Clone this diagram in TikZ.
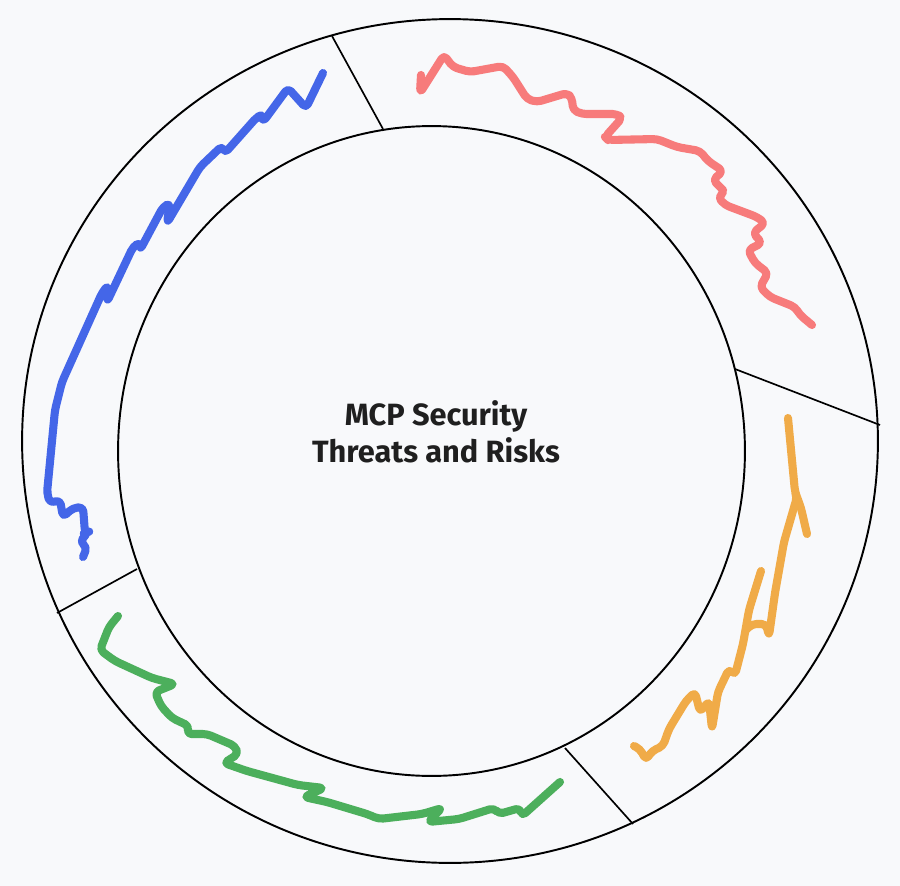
\documentclass[tikz,border=0pt]{standalone}
\usepackage{fontspec}
\setmainfont{Fira Sans}
\usepackage{tikz}
\definecolor{bgc}{HTML}{F8F9FB}
\definecolor{scrblue}{HTML}{4466E8}
\definecolor{scrred}{HTML}{F77B7B}
\definecolor{scrorange}{HTML}{F0AB48}
\definecolor{scrgreen}{HTML}{4CAF5C}
\begin{document}
\begin{tikzpicture}[x = 0.02cm, y = -0.02cm,
                        ring/.style = {draw, line width = 1.1pt},
                        divider/.style = {draw, line width = 0.95pt},
                        scribble/.style = {line width = 4.6pt, line cap = round, line join = round, rounded corners = 2.5pt},
                        title/.style = {align = center, font = \bfseries\fontsize{17.5}{21}\selectfont, text = black!88}]
      \useasboundingbox [fill = bgc] (0, 0) rectangle (900, 886);
      % rings
      \draw [ring] (450, 441) ellipse [x radius = 8.56cm, y radius = 8.44cm];
      \draw [ring] (431.5, 451) ellipse [x radius = 6.27cm, y radius = 6.5cm];
      % dividers
      \coordinate (d1o) at (332, 36);  \coordinate (d1i) at (383, 129);
      \coordinate (d2i) at (735, 369); \coordinate (d2o) at (880, 425);
      \coordinate (d3i) at (565, 748); \coordinate (d3o) at (633, 824);
      \coordinate (d4i) at (137, 569); \coordinate (d4o) at (57, 613);
      \draw [divider] (d1o) -- (d1i);
      \draw [divider] (d2i) -- (d2o);
      \draw [divider] (d3i) -- (d3o);
      \draw [divider] (d4i) -- (d4o);
      \node [title] (core) at (436, 432) {MCP Security\\Threats and Risks};
      % scribbles
      \draw [scribble, scrblue] (83, 557) -- (87, 547) -- (80, 542) -- (88, 532) -- (85, 533) -- (83, 507)
        -- (73, 508) -- (63, 517) -- (60, 500) -- (50, 503) -- (47, 493) -- (55, 410) -- (62, 382)
        -- (102, 293) -- (108, 285) -- (107, 302) -- (133, 247) -- (140, 242) -- (140, 250)
        -- (163, 207) -- (170, 203) -- (167, 223) -- (200, 167) -- (222, 146) -- (225, 153)
        -- (257, 117) -- (262, 115) -- (263, 122) -- (288, 88) -- (306, 108) -- (323, 73);
      \draw [scribble, scrred] (421, 75) -- (420, 93) -- (444, 55) -- (453, 67) -- (470, 72) -- (503, 66)
        -- (513, 77) -- (527, 99) -- (537, 102) -- (567, 93) -- (572, 98) -- (573, 110) -- (582, 114)
        -- (617, 114) -- (622, 118) -- (605, 137) -- (608, 140) -- (657, 139) -- (677, 147)
        -- (700, 151) -- (708, 161) -- (723, 171) -- (713, 180) -- (720, 187) -- (725, 192)
        -- (718, 197) -- (725, 205) -- (757, 217) -- (765, 223) -- (753, 233) -- (762, 243)
        -- (748, 250) -- (755, 263) -- (768, 273) -- (760, 287) -- (770, 297) -- (795, 307)
        -- (800, 315) -- (812, 325);
      \draw [scribble, scrorange] (788, 418) -- (795, 492) -- (797, 497) -- (784, 542) -- (775, 593)
        -- (769, 636) -- (766, 624) -- (752, 624) -- (746, 630);
      \draw [scribble, scrorange] (797, 497) -- (801, 508) -- (807, 534);
      \draw [scribble, scrorange] (761, 571) -- (749, 610) -- (743, 644) -- (735, 675) -- (729, 669)
        -- (718, 692) -- (712, 729) -- (709, 701) -- (700, 712) -- (695, 692) -- (686, 701)
        -- (669, 729) -- (663, 746) -- (652, 751) -- (646, 760) -- (640, 749) -- (634, 746);
      \draw [scribble, scrgreen] (118, 616) -- (109, 627) -- (100, 650) -- (115, 661) -- (152, 678)
        -- (175, 684) -- (155, 692) -- (161, 706) -- (172, 718) -- (189, 726) -- (187, 734)
        -- (207, 734) -- (235, 746) -- (238, 754) -- (224, 763) -- (247, 771) -- (298, 785)
        -- (324, 788) -- (304, 797) -- (327, 802) -- (367, 814) -- (379, 819) -- (422, 814)
        -- (442, 808) -- (428, 822) -- (459, 819) -- (494, 808) -- (499, 814) -- (520, 808)
        -- (522, 816) -- (560, 782);
    \end{tikzpicture}
\end{document}
